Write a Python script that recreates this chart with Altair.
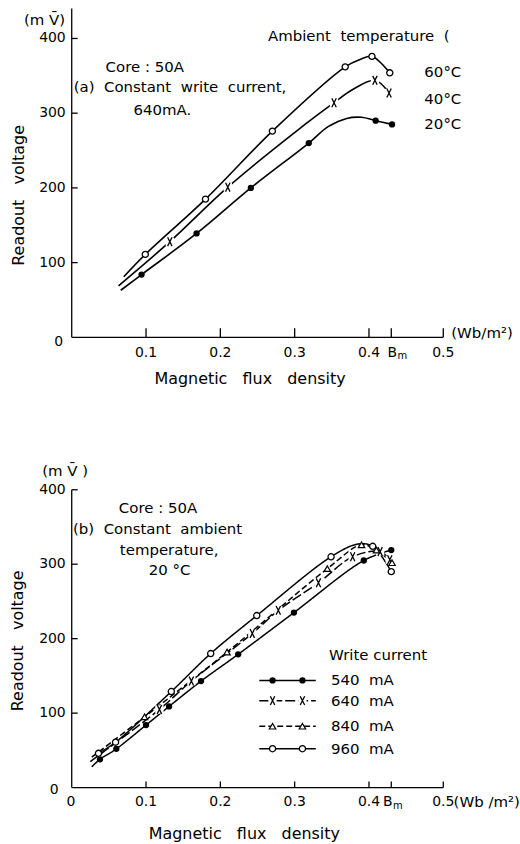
import altair as alt
import pandas as pd

FONT = "DejaVu Sans"
SP = "\u00a0"  # non-breaking space keeps the wide word gaps of the original

# ---------------- Panel (a): constant write current 640 mA ----------------
a_series = ["60°C", "40°C", "20°C"]
# marker points
a60_x = [0.099, 0.18, 0.27, 0.368, 0.404, 0.428]
a60_y = [111, 185, 276, 362, 376, 354]
a40_x = [0.132, 0.21, 0.353, 0.408, 0.427]
a40_y = [128, 201, 314, 344, 327]
a20_x = [0.094, 0.168, 0.241, 0.319, 0.409, 0.431]
a20_y = [84, 139, 200, 260, 290, 285]
# further points (no marker there)
a60_cx = [0.07, 0.388]
a60_cy = [81, 372]
a40_cx = [0.063, 0.305, 0.377]
a40_cy = [69, 278, 331]
a20_cx = [0.066, 0.345, 0.37, 0.39]
a20_cy = [63, 282, 293, 294.5]

# ---------------- Panel (b): constant ambient temperature 20 °C ----------------
b_series = ["540 mA", "640 mA", "840 mA", "960 mA"]
b540_x = [0.038, 0.06, 0.1, 0.131, 0.174, 0.224, 0.299, 0.393, 0.43]
b540_y = [38, 52, 84, 109, 143, 179, 235, 305, 319]
b640_x = [0.118, 0.161, 0.243, 0.278, 0.332, 0.378, 0.415, 0.428]
b640_y = [105, 143, 207, 238, 275, 310, 317, 306]
b840_x = [0.098, 0.209, 0.344, 0.39, 0.41, 0.431]
b840_y = [95, 182, 294, 326, 319, 302]
b960_x = [0.036, 0.059, 0.134, 0.187, 0.249, 0.349, 0.405, 0.43]
b960_y = [46, 61, 129, 180, 231, 310, 324, 290]
b540_cx, b540_cy = [0.027], [28]
b640_cx, b640_cy = [0.025], [35]
b840_cx, b840_cy = [0.027], [41]
b960_cx, b960_cy = [0.385], [327]

# axis ticks
x_ticks = [0.1, 0.2, 0.3, 0.4, 0.5]
x_tick_labels = ["0.1", "0.2", "0.3", "0.4", "0.5"]
bm_value = 0.43
y_ticks = [100, 200, 300, 400]
y_tick_labels = ["100", "200", "300", "400"]


def frame(xs, ys, s):
    return pd.DataFrame({"x": xs, "y": ys, "s": [s] * len(xs)})


def sp(t, n=2):
    return t.replace(" ", SP * n)


# ---------------- helpers ----------------
def text(t, x, y, size=15, align="left", baseline="middle", angle=None):
    kw = dict(align=align, baseline=baseline, fontSize=size, font=FONT, color="black")
    if angle is not None:
        kw["angle"] = angle
    return alt.Chart(pd.DataFrame({"t": [t]})).mark_text(**kw).encode(
        x=alt.value(x), y=alt.value(y), text="t:N")


def axes_layers(W, H, xsc, ysc, x_label_y, xtick_len, ytick_len):
    tick_df = pd.DataFrame({"x": x_ticks + [bm_value]})
    ytick_df = pd.DataFrame({"y": y_ticks, "label": y_tick_labels})
    xlab_df = pd.DataFrame({"x": x_ticks, "label": x_tick_labels})
    X = alt.X("x:Q", scale=xsc, axis=None)
    Y = alt.Y("y:Q", scale=ysc, axis=None)
    dom_df = pd.DataFrame({"x": [0.0], "y": [0.0]})
    return [
        alt.Chart(dom_df).mark_rule(color="black", strokeWidth=1.3).encode(
            x=alt.value(0), x2=alt.value(W), y=alt.value(H)),
        alt.Chart(dom_df).mark_rule(color="black", strokeWidth=1.3).encode(
            x=alt.value(0), y=alt.value(0), y2=alt.value(H)),
        alt.Chart(tick_df).mark_rule(color="black", strokeWidth=1.3).encode(
            x=X, y=alt.value(H), y2=alt.value(H - xtick_len)),
        alt.Chart(ytick_df).mark_rule(color="black", strokeWidth=1.3).encode(
            y=Y, x=alt.value(0), x2=alt.value(ytick_len)),
        alt.Chart(ytick_df).mark_text(align="right", baseline="middle", fontSize=14,
                                      font=FONT, color="black").encode(
            y=Y, x=alt.value(-6), text="label:N"),
        alt.Chart(xlab_df).mark_text(align="center", baseline="middle", fontSize=14,
                                     font=FONT, color="black").encode(
            x=X, y=alt.value(x_label_y), text="label:N"),
    ]


XPATH = "M-0.5,-1L0.5,1M0.5,-1L-0.5,1"


def symbol_layers(chart, kind, x, y):
    if kind == "open":
        return [chart.mark_point(shape="circle", filled=True, fill="white", stroke="black",
                                 strokeWidth=1.3, size=38, opacity=1).encode(x=x, y=y)]
    if kind == "dot":
        return [chart.mark_circle(color="black", size=40, opacity=1).encode(x=x, y=y)]
    if kind == "tri":
        return [chart.mark_point(shape="triangle-up", filled=True, fill="white",
                                 stroke="black", strokeWidth=1.2, size=42,
                                 opacity=1).encode(x=x, y=y)]
    return [
        chart.mark_square(color="white", size=70, opacity=1).encode(x=x, y=y),
        chart.mark_point(shape=XPATH, filled=False, stroke="black", strokeWidth=1.3,
                         size=80, opacity=1).encode(x=x, y=y),
    ]


def markers(df, kind, xsc, ysc):
    return symbol_layers(alt.Chart(df), kind,
                         alt.X("x:Q", scale=xsc, axis=None),
                         alt.Y("y:Q", scale=ysc, axis=None))


INTERP = "catmull-rom"

# ---------------- Panel (a) ----------------
WA, HA, YMAXA = 373, 330, 440
xsa = alt.Scale(domain=[0, 0.5], nice=False, zero=False)
ysa = alt.Scale(domain=[0, YMAXA], nice=False)

a_marks = {
    "60°C": (frame(a60_x, a60_y, "60°C"), "open"),
    "40°C": (frame(a40_x, a40_y, "40°C"), "x"),
    "20°C": (frame(a20_x, a20_y, "20°C"), "dot"),
}
a_curves = pd.concat([
    frame(a60_x + a60_cx, a60_y + a60_cy, "60°C"),
    frame(a40_x + a40_cx, a40_y + a40_cy, "40°C"),
    frame(a20_x + a20_cx, a20_y + a20_cy, "20°C"),
]).sort_values(["s", "x"])

a_layers = axes_layers(WA, HA, xsa, ysa, 345.5, 9, 6)
a_layers.append(alt.Chart(a_curves).mark_line(
    interpolate=INTERP, color="black", strokeWidth=1.6).encode(
    x=alt.X("x:Q", scale=xsa, axis=None), y=alt.Y("y:Q", scale=ysa, axis=None),
    detail="s:N"))
for s in a_series:
    df, kind = a_marks[s]
    a_layers += markers(df, kind, xsa, ysa)
a_layers += [
    text("(m" + SP + "V\u0304)", -48, 11, 15),
    text(sp("Ambient temperature (", 2), 197, 28, 15),
    text(SP.join(["Core", ":", "50A"]), 34, 58.5, 15),
    text(sp("(a) Constant write current,", 2), 2, 79, 15),
    text("640mA.", 62, 102, 15),
    text("60°C", 354, 64, 15),
    text("40°C", 354, 91, 15),
    text("20°C", 354, 116, 15),
    text("(Wb/m²)", 381, 326, 15),
    text("B", 317, 345.5, 14),
    text("m", 327, 349, 10),
    text("0", -13, 335, 14, align="center"),
    text(sp("Magnetic flux density", 3), 179, 372, 16, align="center"),
    text(sp("Readout voltage", 3), -53, 187.5, 16, align="center", angle=270),
]
top = alt.layer(*a_layers).properties(width=WA, height=HA)

# ---------------- Panel (b) ----------------
WB, HB, YMAXB = 373, 299, 400
xsb = alt.Scale(domain=[0, 0.5], nice=False, zero=False)
ysb = alt.Scale(domain=[0, YMAXB], nice=False)

b_kind = {"540 mA": "dot", "640 mA": "x", "840 mA": "tri", "960 mA": "open"}
b_dash = [[1, 0], [10, 3], [6, 3], [1, 0]]
b_mark_df = {
    "540 mA": frame(b540_x, b540_y, "540 mA"),
    "640 mA": frame(b640_x, b640_y, "640 mA"),
    "840 mA": frame(b840_x, b840_y, "840 mA"),
    "960 mA": frame(b960_x, b960_y, "960 mA"),
}
b_curves = pd.concat([
    frame(b540_x + b540_cx, b540_y + b540_cy, "540 mA"),
    frame(b640_x + b640_cx, b640_y + b640_cy, "640 mA"),
    frame(b840_x + b840_cx, b840_y + b840_cy, "840 mA"),
    frame(b960_x + b960_cx, b960_y + b960_cy, "960 mA"),
]).sort_values(["s", "x"])

b_layers = axes_layers(WB, HB, xsb, ysb, 313, 6, 6)
b_layers.append(alt.Chart(b_curves).mark_line(
    interpolate=INTERP, color="black", strokeWidth=1.5).encode(
    x=alt.X("x:Q", scale=xsb, axis=None), y=alt.Y("y:Q", scale=ysb, axis=None),
    detail="s:N",
    strokeDash=alt.StrokeDash("s:N", scale=alt.Scale(domain=b_series, range=b_dash),
                              legend=None)))
for s in b_series:
    b_layers += markers(b_mark_df[s], b_kind[s], xsb, ysb)

# legend (manual, in the style of the original)
leg_rows = [191.4, 211.7, 237.4, 260]
leg_x0, leg_x1, leg_m1, leg_m2, leg_tx = 188.3, 245, 201.6, 231.6, 260.3
for s, dash, ry in zip(b_series, b_dash, leg_rows):
    one = pd.DataFrame({"s": [s]})
    b_layers.append(alt.Chart(one).mark_rule(color="black", strokeWidth=1.5,
                                             strokeDash=dash).encode(
        x=alt.value(leg_x0), x2=alt.value(leg_x1), y=alt.value(ry)))
    for mx in (leg_m1, leg_m2):
        b_layers += symbol_layers(alt.Chart(one), b_kind[s], alt.value(mx), alt.value(ry))
    b_layers.append(text(sp(s, 2), leg_tx, ry, 15))

b_layers += [
    text("(m" + SP + "V\u0304" + SP + ")", -29.7, -18.7, 15),
    text(SP.join(["Core", ":", "50A"]), 47.3, 18.7, 15),
    text(sp("(b) Constant ambient", 2), 1.3, 39.7, 15),
    text("temperature,", 48.3, 60.7, 15),
    text("20" + SP + "°C", 77.3, 80.7, 15),
    text(sp("Write current", 1), 258.3, 165.7, 15),
    text("0", -17.7, 301.4, 14, align="center"),
    text("0", -0.7, 313, 14, align="center"),
    text("B", 312.5, 313, 14),
    text("m", 322.5, 317, 10),
    text("(Wb" + SP + "/m²)", 383.3, 313, 15),
    text(sp("Magnetic flux density", 3), 173.3, 345.7, 16, align="center"),
    text(sp("Readout voltage", 3), -53.7, 151.7, 16, align="center", angle=270),
]
bottom = alt.layer(*b_layers).properties(width=WB, height=HB)

chart = alt.vconcat(top, bottom, spacing=153, bounds="flush").properties(
    padding={"left": 10, "top": 6, "right": 0, "bottom": 0},
    background="white",
).configure_view(stroke=None)

chart.save("out.html", embed_options={"renderer": "svg", "actions": False})
